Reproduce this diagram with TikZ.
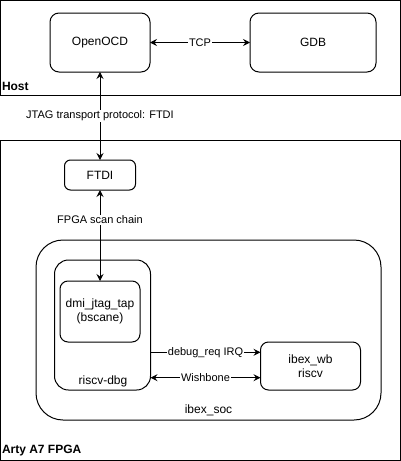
\documentclass[tikz,border=0pt]{standalone}
\usepackage{fontspec}
\setmainfont{Liberation Sans}
\usetikzlibrary{arrows.meta,calc}
\begin{document}
\begin{tikzpicture}[x=1pt,y=-1pt,
  every node/.style={font=\fontsize{12}{14}\selectfont, inner sep=0pt, outer sep=0pt},
  box/.style={draw, line width=1pt, rounded corners=#1},
  box/.default=9pt,
  frame/.style={draw, line width=1pt},
  lbl/.style={fill=white, inner sep=1pt, font=\fontsize{11}{13}\selectfont},
  dbl/.style={line width=1pt, {Stealth[length=7pt,width=7pt,inset=2.5pt]}-{Stealth[length=7pt,width=7pt,inset=2.5pt]}},
  sgl/.style={line width=1pt, -{Stealth[length=7pt,width=7pt,inset=2.5pt]}},
  ttl/.style={font=\fontsize{12}{14}\selectfont\bfseries, anchor=west}
]
\useasboundingbox (0,0) rectangle (401,461);
% containers
\node[frame, minimum width=399.5pt, minimum height=94.5pt] (host) at (200.25,47.75) {};
\node[ttl] (hostlbl) at (2,86) {Host};
\node[frame, minimum width=399.5pt, minimum height=320.5pt] (fpga) at (200.25,300.25) {};
\node[ttl] (fpgalbl) at (2,451) {Arty A7 FPGA};
% host nodes
\node[box, minimum width=100pt, minimum height=59pt] (openocd) at (100,42.5) {OpenOCD};
\node[box, minimum width=126pt, minimum height=59pt] (gdb) at (313,42.5) {GDB};
% fpga nodes
\node[box=6pt, minimum width=71pt, minimum height=30pt] (ftdi) at (100,175) {FTDI};
\node[box=27pt, minimum width=345pt, minimum height=180pt] (soc) at (208.5,330) {};
\node (soclbl) at (208.5,410) {ibex\_soc};
\node[box=14pt, minimum width=96pt, minimum height=130pt] (dbg) at (102.5,325) {};
\node (dbglbl) at (103,381) {riscv-dbg};
\node[box=8pt, minimum width=80pt, minimum height=61pt, align=center] (tap) at (100,311.5) {dmi\_jtag\_tap\\(bscane)};
\node[box=8pt, minimum width=100pt, minimum height=48pt, align=center] (ibex) at (310.5,366) {ibex\_wb\\riscv};
% connectors
\draw[dbl] (openocd.east) -- node[lbl] {TCP} (gdb.west);
\draw[dbl] (openocd.south) -- node[lbl] {JTAG transport protocol: FTDI} (ftdi.north);
\draw[dbl] (ftdi.south) -- node[lbl, pos=0.33] {FPGA scan chain} (tap.north);
\draw[sgl] ([yshift=13.7pt]ibex.west -| dbg.east) -- node[lbl] {debug\_req IRQ} ([yshift=13.7pt]ibex.west);
\draw[dbl] ([yshift=-11.7pt]ibex.west -| dbg.east) -- node[lbl] {Wishbone} ([yshift=-11.7pt]ibex.west);
\end{tikzpicture}
\end{document}
